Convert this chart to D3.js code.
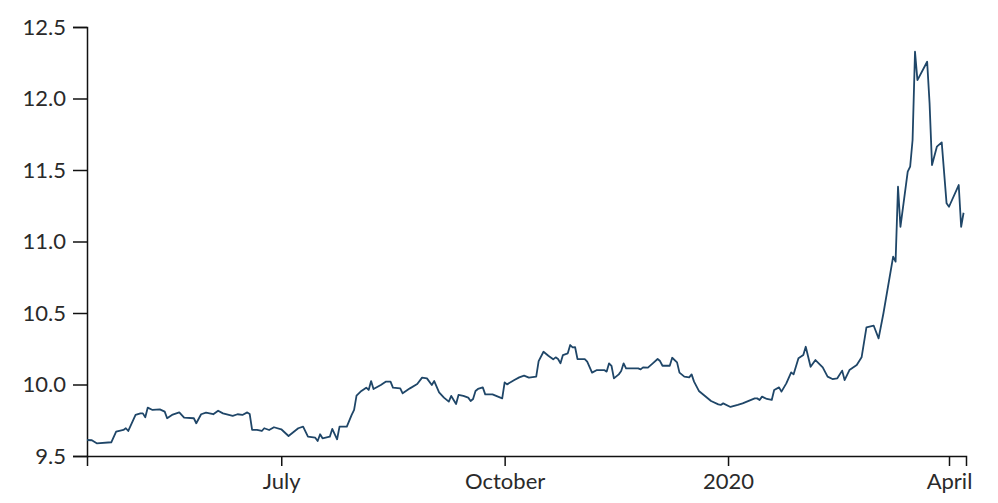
<!DOCTYPE html>
<html>
<head>
<meta charset="utf-8">
<script src="https://cdn.jsdelivr.net/npm/d3@7"></script>
<style>
  html, body { margin: 0; padding: 0; background: #fff; }
  svg { display: block; font-family: Lato, "Open Sans", sans-serif; }
</style>
</head>
<body>
<svg id="chart" width="998" height="503"></svg>
<script>
// ---- data (EUR/NOK style exchange rate) ----
const dates = [
  "2019-04-12","2019-04-14","2019-04-16","2019-04-22","2019-04-24","2019-04-27","2019-04-28","2019-04-29",
  "2019-05-02","2019-05-04","2019-05-05","2019-05-06","2019-05-07","2019-05-09","2019-05-12","2019-05-14",
  "2019-05-15","2019-05-17","2019-05-20","2019-05-22","2019-05-26","2019-05-27","2019-05-29","2019-05-31",
  "2019-06-03","2019-06-05","2019-06-07","2019-06-11","2019-06-13","2019-06-15","2019-06-17","2019-06-18",
  "2019-06-19","2019-06-21","2019-06-23","2019-06-24","2019-06-26","2019-06-28","2019-07-01","2019-07-04",
  "2019-07-08","2019-07-10","2019-07-12","2019-07-15","2019-07-16","2019-07-17","2019-07-18","2019-07-21",
  "2019-07-22","2019-07-24","2019-07-25","2019-07-28","2019-07-30","2019-07-31","2019-08-01","2019-08-03",
  "2019-08-05","2019-08-06","2019-08-07","2019-08-08","2019-08-11","2019-08-13","2019-08-15","2019-08-16",
  "2019-08-19","2019-08-20","2019-08-23","2019-08-26","2019-08-28","2019-08-30","2019-09-01","2019-09-02",
  "2019-09-04","2019-09-06","2019-09-08","2019-09-09","2019-09-11","2019-09-12","2019-09-14","2019-09-16",
  "2019-09-17","2019-09-18","2019-09-19","2019-09-20","2019-09-22","2019-09-23","2019-09-26","2019-09-30",
  "2019-10-01","2019-10-02","2019-10-05","2019-10-07","2019-10-09","2019-10-11","2019-10-14","2019-10-15",
  "2019-10-17","2019-10-19","2019-10-21","2019-10-22","2019-10-23","2019-10-24","2019-10-25","2019-10-27",
  "2019-10-28","2019-10-29","2019-10-30","2019-10-31","2019-11-03","2019-11-04","2019-11-06","2019-11-08",
  "2019-11-11","2019-11-12","2019-11-13","2019-11-14","2019-11-15","2019-11-17","2019-11-18","2019-11-19",
  "2019-11-20","2019-11-25","2019-11-26","2019-11-27","2019-11-29","2019-12-01","2019-12-03","2019-12-04",
  "2019-12-05","2019-12-08","2019-12-09","2019-12-11","2019-12-12","2019-12-14","2019-12-16","2019-12-17",
  "2019-12-18","2019-12-20","2019-12-22","2019-12-25","2019-12-28","2019-12-29","2019-12-30","2020-01-02",
  "2020-01-05","2020-01-07","2020-01-12","2020-01-13","2020-01-14","2020-01-15","2020-01-17","2020-01-19",
  "2020-01-20","2020-01-22","2020-01-23","2020-01-25","2020-01-27","2020-01-28","2020-01-30","2020-02-01",
  "2020-02-02","2020-02-04","2020-02-06","2020-02-09","2020-02-11","2020-02-13","2020-02-15","2020-02-17",
  "2020-02-18","2020-02-20","2020-02-23","2020-02-25","2020-02-27","2020-03-01","2020-03-03","2020-03-05",
  "2020-03-09","2020-03-10","2020-03-11","2020-03-12","2020-03-15","2020-03-16","2020-03-17","2020-03-18",
  "2020-03-19","2020-03-23","2020-03-24","2020-03-25","2020-03-27","2020-03-29","2020-03-31","2020-04-01",
  "2020-04-05","2020-04-06","2020-04-07"
];
const rates = [
  9.612,9.610,9.589,9.596,9.670,9.682,9.694,9.675,
  9.787,9.798,9.798,9.771,9.838,9.822,9.826,9.810,
  9.764,9.787,9.805,9.768,9.764,9.729,9.792,9.803,
  9.792,9.817,9.798,9.780,9.792,9.787,9.805,9.794,
  9.682,9.682,9.675,9.694,9.682,9.701,9.687,9.640,
  9.694,9.705,9.635,9.628,9.605,9.652,9.624,9.635,
  9.689,9.617,9.705,9.705,9.787,9.822,9.922,9.955,
  9.978,9.962,10.024,9.968,9.997,10.020,10.020,9.978,
  9.973,9.938,9.973,10.003,10.048,10.043,9.997,10.024,
  9.945,9.908,9.880,9.920,9.864,9.927,9.920,9.908,
  9.885,9.899,9.955,9.969,9.980,9.931,9.931,9.903,
  10.015,10.001,10.031,10.050,10.062,10.048,10.055,10.164,
  10.229,10.201,10.176,10.190,10.178,10.148,10.206,10.218,
  10.276,10.260,10.262,10.178,10.178,10.160,10.083,10.101,
  10.101,10.090,10.148,10.131,10.043,10.071,10.094,10.148,
  10.113,10.113,10.106,10.120,10.118,10.148,10.178,10.164,
  10.131,10.131,10.187,10.155,10.083,10.055,10.050,10.071,
  10.020,9.955,9.927,9.885,9.861,9.857,9.868,9.843,
  9.857,9.868,9.903,9.903,9.892,9.915,9.899,9.892,
  9.962,9.980,9.950,10.008,10.085,10.071,10.183,10.206,
  10.264,10.124,10.171,10.120,10.055,10.038,10.043,10.097,
  10.031,10.101,10.136,10.190,10.400,10.411,10.323,10.498,
  10.894,10.859,11.383,11.103,11.488,11.523,11.710,12.327,
  12.129,12.257,11.966,11.535,11.663,11.693,11.267,11.243,
  11.395,11.103,11.201
];
const xDomain = ["2019-04-12", "2020-04-08"];
const yDomain = [9.5, 12.5];
const yTicks = [9.5, 10.0, 10.5, 11.0, 11.5, 12.0, 12.5];

// ---- layout ----
const W = 998, H = 503;
const margin = { top: 27, right: 32, bottom: 47, left: 87 };
const parse = d3.utcParse("%Y-%m-%d");
const data = dates.map((d, i) => ({ date: parse(d), value: rates[i] }));

const svg = d3.select("#chart");

const x = d3.scaleUtc()
  .domain(xDomain.map(parse))
  .range([margin.left, W - margin.right]);
const y = d3.scaleLinear()
  .domain(yDomain)
  .range([H - margin.bottom, margin.top]);

const xAxis = d3.axisBottom(x)
  .ticks(d3.utcMonth.every(3))
  .tickFormat(d => {
    if (d.getUTCMonth() === 0) return d3.utcFormat("%Y")(d);
    return d3.utcFormat("%B")(d);
  })
  .tickSize(10)
  .tickPadding(7);

const yAxis = d3.axisLeft(y)
  .tickValues(yTicks)
  .tickFormat(d3.format(".1f"))
  .tickSize(14)
  .tickPadding(7);

const gx = svg.append("g")
  .attr("transform", `translate(0,${H - margin.bottom})`)
  .call(xAxis);
const gy = svg.append("g")
  .attr("transform", `translate(${margin.left},0)`)
  .call(yAxis);

[gx, gy].forEach(g => {
  g.selectAll("path.domain").attr("stroke", "#111").attr("stroke-width", 1.5);
  g.selectAll(".tick line").attr("stroke", "#111").attr("stroke-width", 1.5);
  g.selectAll(".tick text")
    .attr("fill", "#2a2a2a")
    .style("font-family", "Lato, sans-serif")
    .style("font-size", "22px");
});

const line = d3.line()
  .x(d => x(d.date))
  .y(d => y(d.value));

svg.append("path")
  .datum(data)
  .attr("fill", "none")
  .attr("stroke", "#1f4668")
  .attr("stroke-width", 1.8)
  .attr("stroke-linejoin", "round")
  .attr("d", line);
</script>
</body>
</html>
